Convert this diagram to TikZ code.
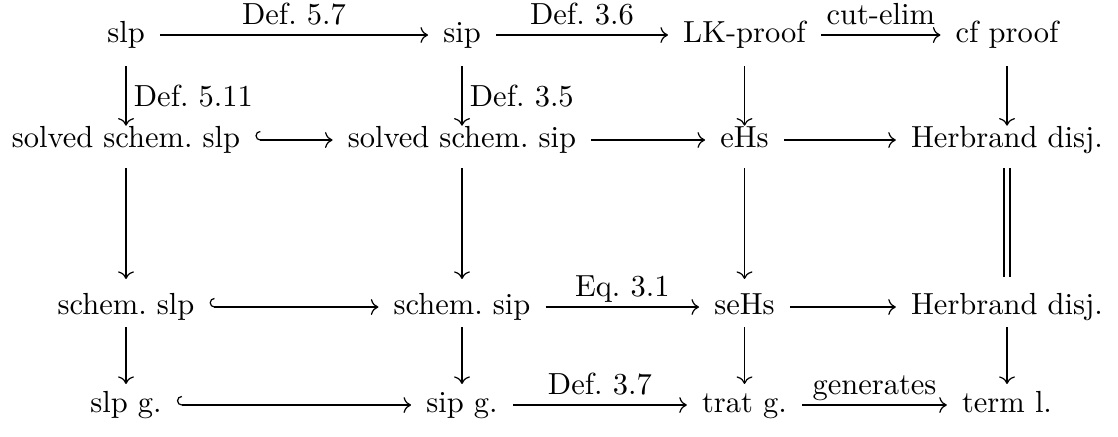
\documentclass[tikz,border=0pt]{standalone}
\usetikzlibrary{arrows.meta}
\begin{document}
\frenchspacing
\begin{tikzpicture}[x=0.32787pt, y=-0.32787pt,
  obj/.style={inner xsep=4.8pt, inner ysep=0pt, text height=7pt, text depth=2pt},
  arr/.style={line width=0.4pt, -{Computer Modern Rightarrow}},
  inc/.style={line width=0.4pt, {Hooks[right, width=6pt, length=1.6pt]}-{Computer Modern Rightarrow}},
  hlab/.style={anchor=base, yshift=3.6pt, inner sep=0pt},
  vlab/.style={anchor=west, inner xsep=2.4pt, inner ysep=0pt},
  vone/.style={arr, shorten <=5.5pt},
  vtwo/.style={arr, shorten <=4.5pt, shorten >=4.5pt},
  vthree/.style={arr, shorten <=2pt, shorten >=2.2pt},
  eqline/.style={line width=0.4pt, double, double distance=1.55pt, shorten <=4.5pt, shorten >=5pt}
]
\useasboundingbox (0,0) rectangle (1118,436);

% row 1
\node[obj] (slp)  at (126,35)   {slp};
\node[obj] (sip)  at (462,35)   {sip};
\node[obj] (lk)   at (744.5,35) {LK-proof};
\node[obj] (cf)   at (1007,35)  {cf proof};
% row 2
\node[obj] (sslp) at (126,140)   {solved schem. slp};
\node[obj] (ssip) at (462,140)   {solved schem. sip};
\node[obj] (ehs)  at (744.5,140) {eHs};
\node[obj] (hda)  at (1007,140)  {Herbrand disj.};
% row 3
\node[obj] (cslp) at (126,307)   {schem. slp};
\node[obj] (csip) at (462,307)   {schem. sip};
\node[obj] (sehs) at (744.5,307) {seHs};
\node[obj] (hdb)  at (1007,307)  {Herbrand disj.};
% row 4
\node[obj] (gslp) at (126,405)   {slp g.};
\node[obj] (gsip) at (462,405)   {sip g.};
\node[obj] (trat) at (744.5,405) {trat g.};
\node[obj] (term) at (1007,405)  {term l.};

% horizontal maps
\draw[arr] (slp) -- node[hlab] {Def. 5.7} (sip);
\draw[arr] (sip) -- node[hlab] {Def. 3.6} (lk);
\draw[arr] (lk)  -- node[hlab] {cut-elim} (cf);

\draw[inc] (sslp) -- (ssip);
\draw[arr] (ssip) -- (ehs);
\draw[arr] (ehs)  -- (hda);

\draw[inc] (cslp) -- (csip);
\draw[arr] (csip) -- node[hlab] {Eq. 3.1} (sehs);
\draw[arr] (sehs) -- (hdb);

\draw[inc] (gslp) -- (gsip);
\draw[arr] (gsip) -- node[hlab] {Def. 3.7} (trat);
\draw[arr] (trat) -- node[hlab] {generates} (term);

% vertical maps
\draw[vone] (slp) -- node[vlab, pos=0.61] {Def. 5.11} (sslp);
\draw[vone] (sip) -- node[vlab, pos=0.61] {Def. 3.5} (ssip);
\draw[vone] (lk)  -- (ehs);
\draw[vone] (cf)  -- (hda);

\draw[vtwo] (sslp) -- (cslp);
\draw[vtwo] (ssip) -- (csip);
\draw[vtwo] (ehs)  -- (sehs);
\draw[eqline] (hda) -- (hdb);

\draw[vthree] (cslp) -- (gslp);
\draw[vthree] (csip) -- (gsip);
\draw[vthree] (sehs) -- (trat);
\draw[vthree] (hdb)  -- (term);
\end{tikzpicture}
\end{document}
